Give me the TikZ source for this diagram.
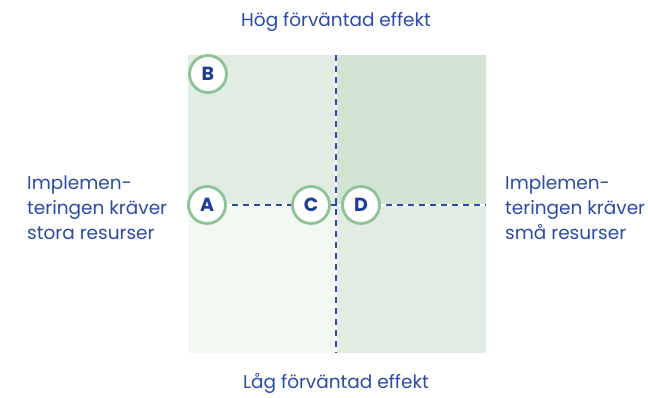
\documentclass[tikz,border=0pt]{standalone}
\usepackage{fontspec}
\setmainfont{Poppins}
\usepackage{tikz}
\definecolor{txtblue}{HTML}{2D4BA6}
\definecolor{letterblue}{HTML}{1F3D96}
\definecolor{dashblue}{HTML}{2A49AA}
\definecolor{ringgreen}{HTML}{8DC396}
\definecolor{quadlight}{HTML}{F2F8F2}
\definecolor{quadmid}{HTML}{E1EDE2}
\definecolor{quaddark}{HTML}{D0E4D1}
\tikzset{
    label text/.style={text=txtblue, font=\fontsize{18.5}{25}\selectfont, inner sep=0pt},
    letter/.style={circle, draw=ringgreen, line width=2.8pt, fill=white, minimum size=37pt, inner sep=0pt, text=letterblue, font=\fontsize{19}{19}\selectfont\bfseries},
    axis line/.style={line width=1.3pt},
}

\begin{document}
\begin{tikzpicture}[x=1pt, y=-1pt]
        \useasboundingbox[fill=white] (0, 0) rectangle (648, 397);
        %draw quadrants
        \fill[quadmid] (188, 55) rectangle (336, 205);
        \fill[quaddark] (336, 55) rectangle (486, 205);
        \fill[quadlight] (188, 205) rectangle (336, 353);
        \fill[quadmid] (336, 205) rectangle (486, 353);
        %draw axis
        \coordinate (top) at (336, 55);
        \coordinate (bottom) at (336, 353);
        \coordinate (left) at (188, 205);
        \coordinate (right) at (486, 205);
        \draw[line width=2pt, white] (left) -- (right);
        \draw[line width=2pt, white] (top) -- (bottom);
        \draw[axis line, dashblue, dash pattern=on 6pt off 5pt] (left) -- (right);
        \draw[axis line, dashblue, dash pattern=on 6pt off 5pt] (top) -- (bottom);
        %draw letters
        \node[letter] (b) at (208, 74) {B};
        \node[letter] (a) at (207, 205) {A};
        \node[letter] (c) at (311, 205) {C};
        \node[letter] (d) at (361, 205) {D};
        %draw labels
        \node[label text] (high) at (336, 22) {Hög förväntad effekt};
        \node[label text] (low) at (336, 383) {Låg förväntad effekt};
        \node[label text, align=left, anchor=west] (big) at (27, 208) {Implemen-\\teringen kräver\\stora resurser};
        \node[label text, align=left, anchor=west] (small) at (505, 208) {Implemen-\\teringen kräver\\små resurser};
    \end{tikzpicture}
\end{document}
